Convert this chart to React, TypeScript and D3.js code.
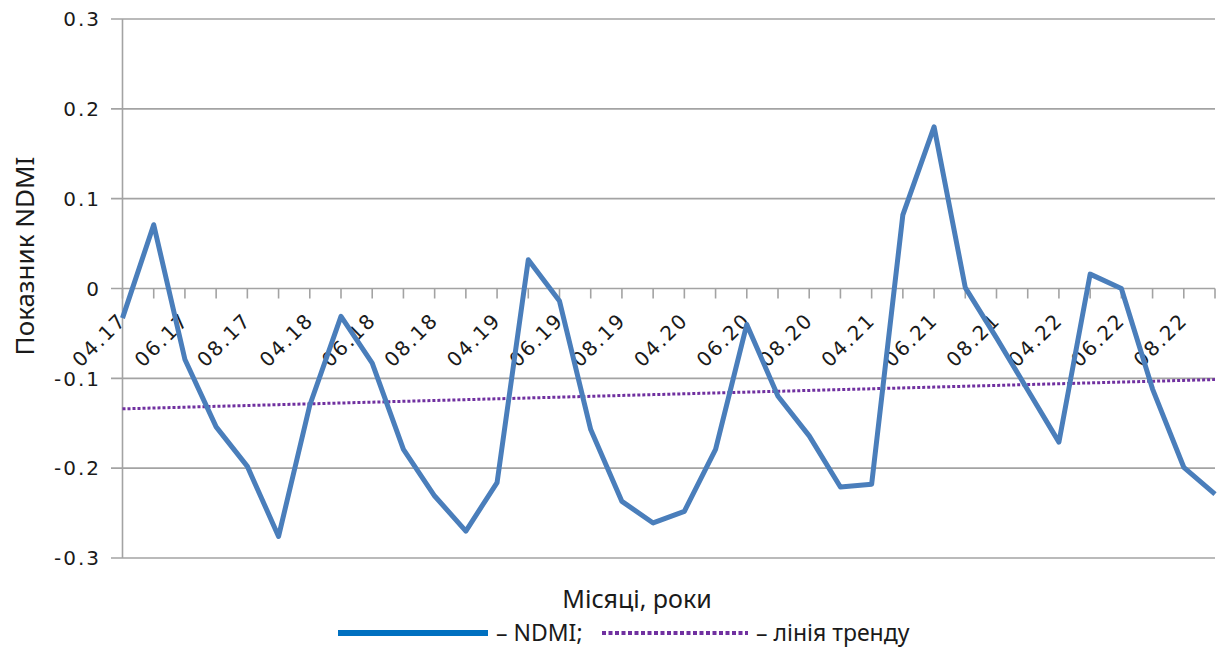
import * as d3 from "d3";

const months = ["04", "05", "06", "07", "08", "09"];
const years = ["17", "18", "19", "20", "21", "22"];
const labelMonths = ["04", "06", "08"];

// NDMI by month, April..September, 2017-2022
const ndmi = [
  -0.033, 0.071, -0.079, -0.154, -0.198, -0.276,
  -0.13, -0.031, -0.083, -0.179, -0.231, -0.27,
  -0.216, 0.032, -0.014, -0.157, -0.237, -0.261,
  -0.248, -0.179, -0.04, -0.12, -0.164, -0.221,
  -0.218, 0.082, 0.18, 0.001, -0.055, -0.113,
  -0.171, 0.016, 0.0, -0.112, -0.199, -0.229,
];

const yTicks = [0.3, 0.2, 0.1, 0, -0.1, -0.2, -0.3];

const categories = years.flatMap((y) => months.map((m) => `${m}.${y}`));

const W = 1224;
const H = 648;
const left = 122.5;
const right = 1215;
const top = 19;
const bottom = 558;

const gridColor = "#a3a3a3";
const tickFont = "'DejaVu Sans', Verdana, sans-serif";
const titleFont = "'Noto Sans', 'Open Sans', sans-serif";

export default function App() {
  const x = d3.scalePoint<string>().domain(categories).range([left, right]);
  const y = d3.scaleLinear().domain([-0.3, 0.3]).range([bottom, top]);

  // linear trend (least squares) over the category index
  const n = ndmi.length;
  const idx = d3.range(n);
  const mx = d3.mean(idx) as number;
  const my = d3.mean(ndmi) as number;
  const slope =
    d3.sum(idx, (i) => (i - mx) * (ndmi[i] - my)) /
    d3.sum(idx, (i) => (i - mx) ** 2);
  const trend = idx.map((i) => my + slope * (i - mx));

  const line = d3
    .line<number>()
    .x((_, i) => x(categories[i]) as number)
    .y((d) => y(d));

  const fmt = (d: number) => (d === 0 ? "0" : d.toFixed(1));
  const y0 = y(0);

  return (
    <svg
      width={W}
      height={H}
      style={{ position: "absolute", left: 0, top: 0, background: "#fff" }}
    >
      {/* horizontal gridlines + y ticks */}
      {yTicks.map((t) => (
        <g key={t}>
          <line
            x1={111}
            x2={right}
            y1={y(t)}
            y2={y(t)}
            stroke={gridColor}
            strokeWidth={1.6}
          />
          <text
            x={101}
            y={y(t)}
            dy="0.36em"
            textAnchor="end"
            fontFamily={tickFont}
            fontSize={20}
            letterSpacing={2}
            fill="#1a1a1a"
          >
            {fmt(t)}
          </text>
        </g>
      ))}
      {/* y axis */}
      <line x1={left} x2={left} y1={top} y2={bottom} stroke={gridColor} strokeWidth={1.6} />
      {/* category ticks on the zero line */}
      {categories.map((c) => (
        <line
          key={c}
          x1={x(c)}
          x2={x(c)}
          y1={y0}
          y2={y0 + 10}
          stroke={gridColor}
          strokeWidth={1.6}
        />
      ))}
      {categories
        .filter((c) => labelMonths.includes(c.slice(0, 2)))
        .map((c) => {
          const px = (x(c) as number) + 5;
          const py = y0 + 33;
          return (
            <text
              key={c}
              x={px}
              y={py}
              textAnchor="end"
              transform={`rotate(-45 ${px} ${py})`}
              fontFamily={tickFont}
              fontSize={20}
              letterSpacing={1.8}
              fill="#1a1a1a"
            >
              {c}
            </text>
          );
        })}
      {/* trend line */}
      <path
        d={line(trend) || ""}
        fill="none"
        stroke="#7030a0"
        strokeWidth={3}
        strokeDasharray="3 2"
      />
      {/* NDMI */}
      <path
        d={line(ndmi) || ""}
        fill="none"
        stroke="#4a7ebb"
        strokeWidth={5}
        strokeLinejoin="round"
      />
      {/* axis titles */}
      <text
        transform="translate(34 256) rotate(-90)"
        textAnchor="middle"
        fontFamily={titleFont}
        fontSize={26}
        fill="#1a1a1a"
      >
        Показник NDMI
      </text>
      <text
        x={637}
        y={608}
        textAnchor="middle"
        fontFamily={titleFont}
        fontSize={25}
        fill="#1a1a1a"
      >
        Місяці, роки
      </text>
      {/* legend */}
      <line x1={338} x2={488} y1={633} y2={633} stroke="#0070c0" strokeWidth={6} />
      <text x={496} y={641} fontFamily={titleFont} fontSize={23} fill="#1a1a1a">
        – NDMI;
      </text>
      <line
        x1={602}
        x2={748}
        y1={633}
        y2={633}
        stroke="#7030a0"
        strokeWidth={4}
        strokeDasharray="4 2.5"
      />
      <text x={756} y={641} fontFamily={titleFont} fontSize={23} fill="#1a1a1a">
        – лінія тренду
      </text>
    </svg>
  );
}
